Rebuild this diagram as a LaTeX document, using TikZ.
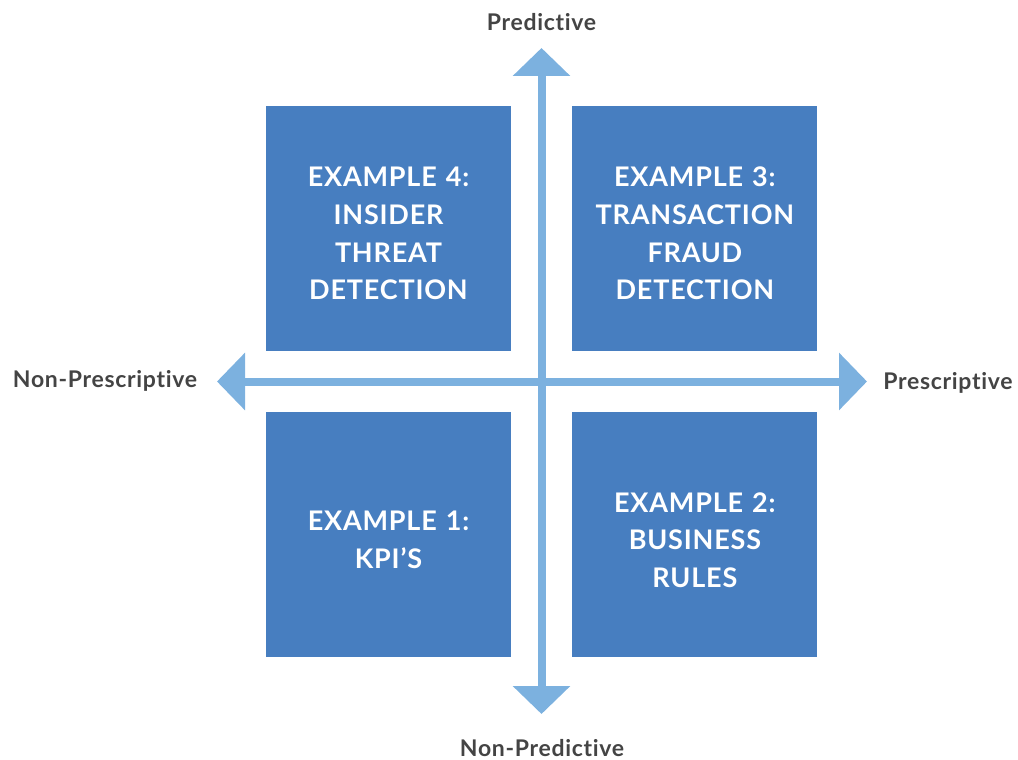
\documentclass[tikz,border=0pt]{standalone}
\usepackage{fontspec}
\setmainfont{Lato}[Ligatures={NoCommon}, LetterSpace=3]
\usetikzlibrary{arrows.meta,positioning}
\definecolor{boxblue}{HTML}{477EC0}
\definecolor{axisblue}{HTML}{7CB1DF}
\definecolor{labelgray}{HTML}{444444}
\tikzstyle{block} = [rectangle, fill=boxblue, text=white, minimum size=245pt, inner sep=0pt, text width=240pt, align=center, font=\bfseries\fontsize{27}{37.7}\selectfont, execute at begin node={\rule{0pt}{30pt}}]
\tikzstyle{axis} = [draw=axisblue, line width=8pt, {Triangle[width=56pt,length=28pt]}-{Triangle[width=56pt,length=28pt]}]
\tikzstyle{label} = [text=labelgray, font=\bfseries\fontsize{23}{27}\selectfont]

\begin{document}
\begin{tikzpicture}[x=1pt, y=-1pt, node distance = 61pt]
    \useasboundingbox (0,0) rectangle (1018,760);
    % Place nodes
    \node [block] (ex4) at (388.5,228.5) {EXAMPLE 4:\\ INSIDER\\ THREAT\\ DETECTION};
    \node [block, right=of ex4] (ex3) {EXAMPLE 3:\\ TRANSACTION\\ FRAUD\\ DETECTION};
    \node [block, below=of ex4] (ex1) {EXAMPLE 1:\\ KPI'S};
    \node [block, below=of ex3] (ex2) {EXAMPLE 2:\\ BUSINESS\\ RULES};

    \coordinate (up) at (541.5,48);
    \coordinate (down) at (541.5,714);
    \coordinate (west) at (217,381.5);
    \coordinate (east) at (867,381.5);

    \node [label] (pred) at (541.5,22) {Predictive};
    \node [label] (nonpred) at (542,748) {Non-Predictive};
    \node [label] (nonpresc) at (105,381) {Non-Prescriptive};
    \node [label] (presc) at (948,383) {Prescriptive};

    % Draw edges
    \path [axis] (down) -- (up);
    \path [axis] (west) -- (east);

\end{tikzpicture}
\end{document}
